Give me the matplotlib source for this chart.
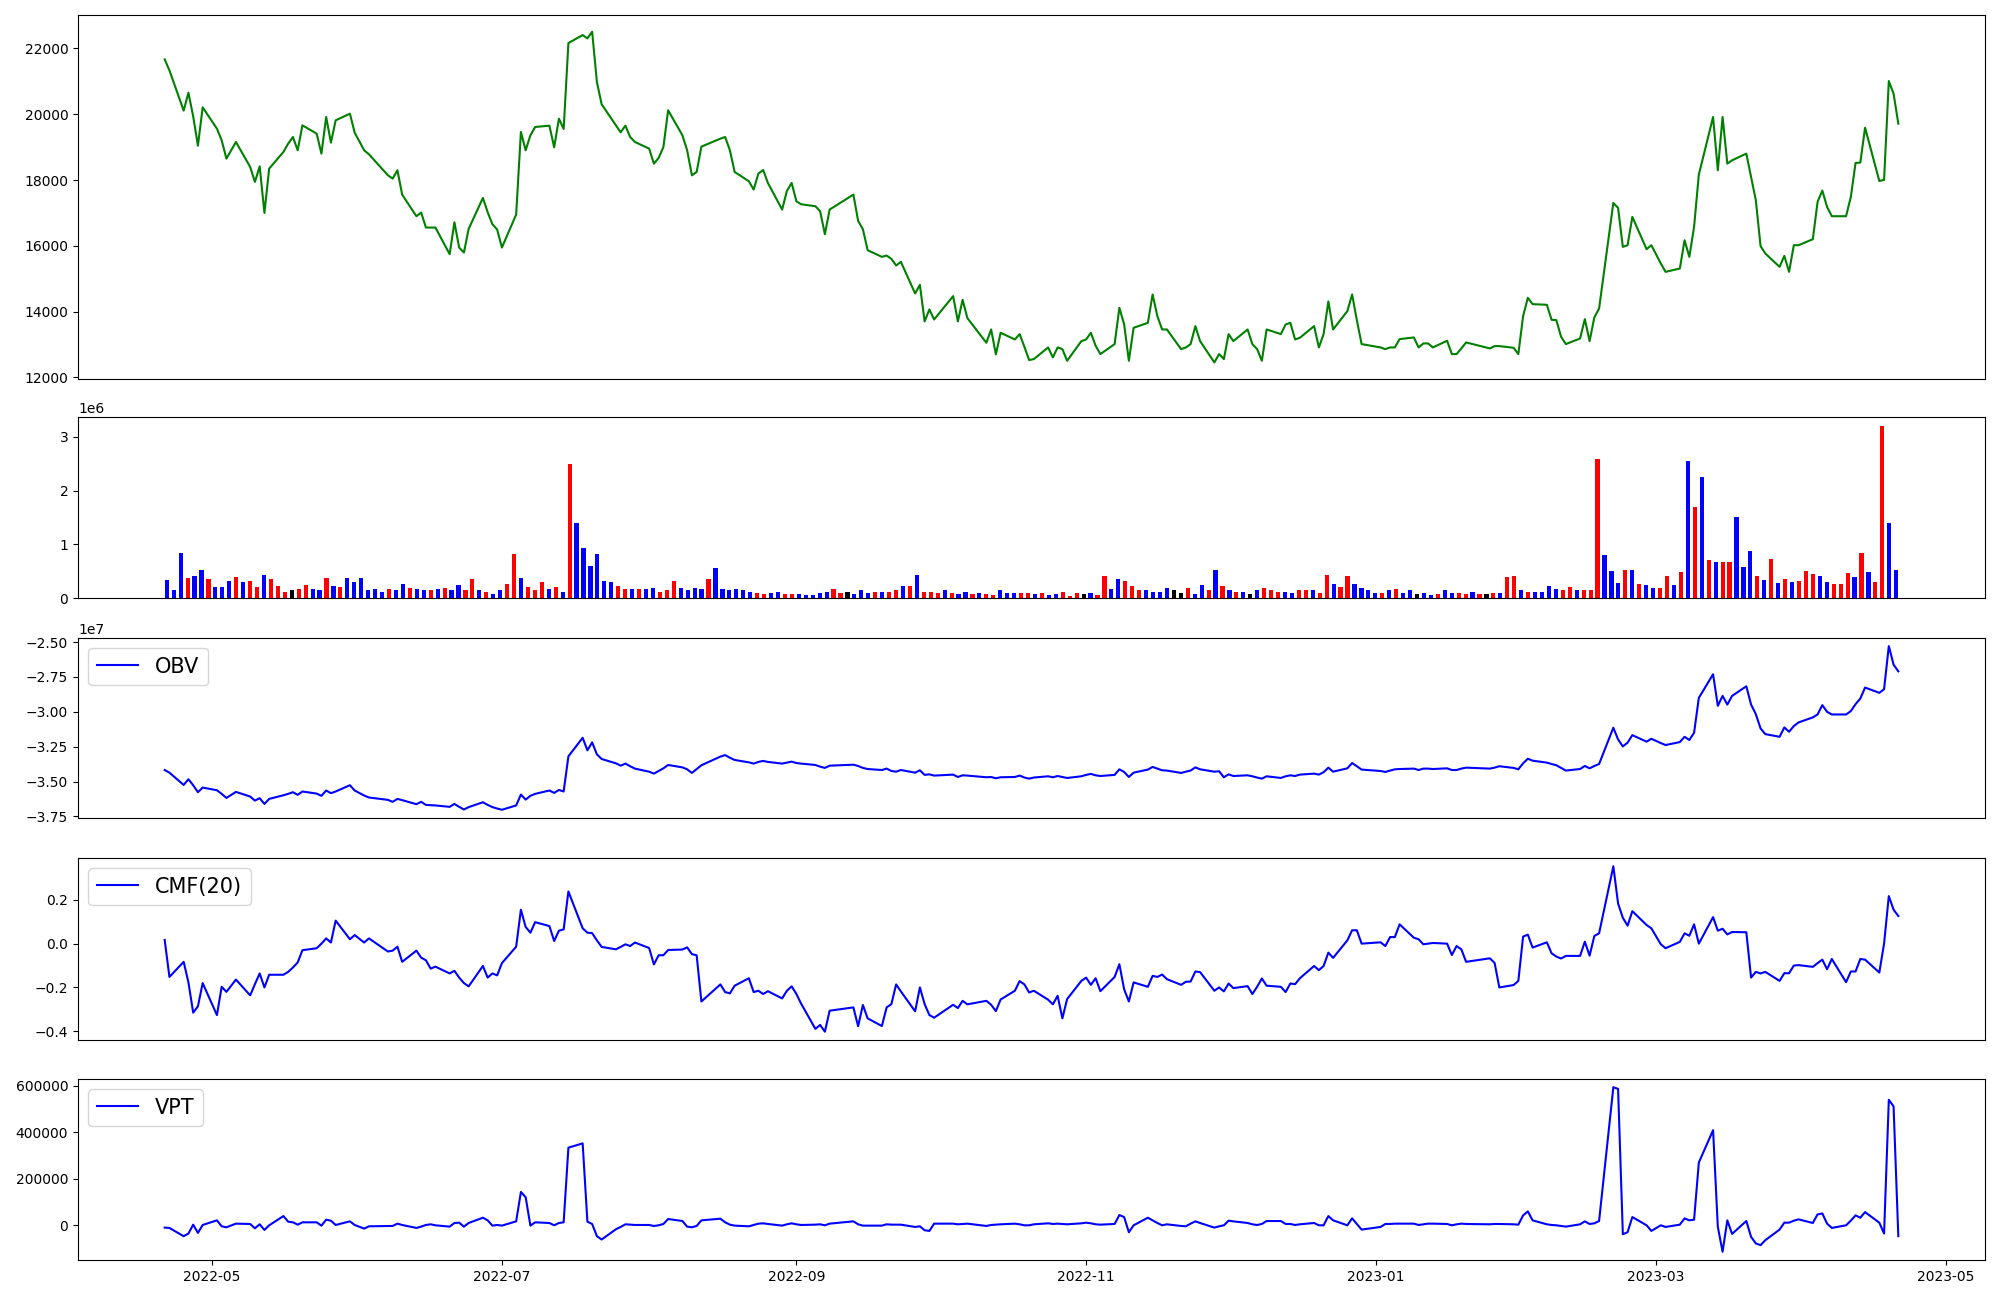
import matplotlib
matplotlib.use("Agg")
import matplotlib.pyplot as plt
import numpy as np
import pandas as pd

# ---- trading calendar (KRX) ----
holidays = ['2022-05-05', '2022-06-01', '2022-06-06', '2022-08-15', '2022-09-09',
            '2022-09-12', '2022-10-03', '2022-10-10', '2022-12-30', '2023-01-23',
            '2023-01-24', '2023-03-01']
dates = pd.bdate_range('2022-04-21', '2023-04-21')
dates = dates[~dates.isin(pd.to_datetime(holidays))]

# ---- close price (per month) ----
close_apr22 = [21666, 21332, 20108, 20654, 19935, 19045, 20209]
close_may22 = [19561, 19207, 18650, 19156, 18397, 17942, 18417, 17000, 18347, 18853, 19106,
               19308, 18903, 19662, 19409, 18802, 19915, 19136, 19814, 20016, 19440]
close_jun22 = [18903, 18782, 18144, 18043, 18296, 17557, 16900, 17011, 16556, 16556, 16556,
               15746, 16717, 15948, 15796, 16515, 17456, 17021, 16657, 16495]
close_jul22 = [15948, 16950, 19460, 18903, 19359, 19612, 19652, 18994, 19864, 19551, 22162,
               22405, 22304, 22506, 20978, 20300, 19662, 19450, 19652, 19308, 19156]
close_aug22 = [18954, 18498, 18670, 19004, 20118, 19359, 18903, 18144, 18245, 19014, 19257,
               19308, 18903, 18245, 17962, 17709, 18195, 18306, 17911, 17102, 17669, 17911]
close_sep22 = [17355, 17264, 17203, 17051, 16353, 17102, 17557, 16758, 16505, 15867, 15665,
               15705, 15604, 15402, 15513, 14552, 14815, 13702, 14066, 13762]
close_oct22 = [14471, 13702, 14359, 13803, 13054, 13459, 12700, 13358, 13155, 13317, 12933,
               12528, 12558, 12912, 12609, 12912, 12861, 12507, 13104]
close_nov22 = [13155, 13358, 12963, 12710, 13013, 14116, 13620, 12507, 13509, 13661, 14521,
               13863, 13459, 13459, 12861, 12912, 13013, 13560, 13104, 12457, 12710, 12558]
close_dec22 = [13317, 13104, 13459, 13013, 12861, 12507, 13459, 13317, 13610, 13661, 13155,
               13206, 13560, 12912, 13317, 14309, 13459, 14016, 14522, 13740, 13014]
close_jan23 = [12912, 12861, 12912, 12912, 13165, 13216, 12912, 13034, 13034, 12912, 13115,
               12710, 12710, 12882, 13064, 12882, 12953, 12953, 12902, 12710]
close_feb23 = [13863, 14420, 14228, 14208, 13752, 13742, 13236, 13013, 13185, 13772, 13104,
               13823, 14096, 17304, 17152, 15968, 16019, 16879, 15898, 16019]
close_mar23 = [15462, 15209, 15310, 16170, 15664, 16576, 18164, 19915, 18296, 19915, 18498,
               18599, 18802, 18094, 17385, 15989, 15766, 15361, 15695, 15209, 16019, 16019]
close_apr23 = [16201, 17335, 17679, 17183, 16900, 16900, 17487, 18519, 18529, 19591, 17972,
               18003, 21008, 20624, 19713]

# ---- volume (millions) and bar colour codes (r up, b down, k flat) ----
volume_m = [0.34, 0.15, 0.84, 0.38, 0.41, 0.52, 0.36, 0.21, 0.21, 0.32,
            0.40, 0.30, 0.32, 0.21, 0.43, 0.36, 0.23, 0.12, 0.14, 0.17,
            0.25, 0.17, 0.14, 0.38, 0.23, 0.21, 0.38, 0.30, 0.38, 0.15,
            0.17, 0.12, 0.17, 0.14, 0.27, 0.19, 0.17, 0.15, 0.15, 0.17,
            0.19, 0.14, 0.25, 0.15, 0.36, 0.15, 0.12, 0.08, 0.15, 0.27,
            0.82, 0.38, 0.21, 0.15, 0.30, 0.17, 0.21, 0.12, 2.49, 1.40,
            0.93, 0.60, 0.82, 0.32, 0.30, 0.23, 0.17, 0.17, 0.17, 0.17,
            0.19, 0.12, 0.14, 0.32, 0.19, 0.15, 0.19, 0.17, 0.36, 0.56,
            0.17, 0.14, 0.17, 0.14, 0.12, 0.10, 0.08, 0.10, 0.12, 0.08,
            0.08, 0.08, 0.06, 0.06, 0.10, 0.12, 0.17, 0.10, 0.12, 0.08,
            0.14, 0.10, 0.12, 0.12, 0.12, 0.14, 0.23, 0.23, 0.43, 0.12,
            0.12, 0.10, 0.14, 0.10, 0.08, 0.12, 0.08, 0.10, 0.08, 0.06,
            0.14, 0.10, 0.10, 0.10, 0.10, 0.08, 0.10, 0.06, 0.08, 0.12,
            0.04, 0.10, 0.08, 0.10, 0.06, 0.41, 0.17, 0.36, 0.32, 0.23,
            0.15, 0.14, 0.12, 0.12, 0.19, 0.14, 0.10, 0.19, 0.08, 0.25,
            0.14, 0.52, 0.23, 0.15, 0.12, 0.12, 0.08, 0.14, 0.19, 0.15,
            0.12, 0.12, 0.10, 0.14, 0.14, 0.15, 0.10, 0.43, 0.27, 0.21,
            0.41, 0.27, 0.19, 0.14, 0.10, 0.10, 0.14, 0.17, 0.10, 0.14,
            0.08, 0.10, 0.06, 0.08, 0.15, 0.10, 0.10, 0.08, 0.12, 0.08,
            0.08, 0.10, 0.10, 0.40, 0.41, 0.15, 0.12, 0.12, 0.12, 0.23,
            0.17, 0.15, 0.21, 0.15, 0.15, 0.15, 2.58, 0.80, 0.51, 0.28,
            0.52, 0.52, 0.27, 0.25, 0.19, 0.19, 0.41, 0.25, 0.49, 2.56,
            1.69, 2.25, 0.71, 0.67, 0.67, 0.67, 1.51, 0.58, 0.88, 0.41,
            0.34, 0.73, 0.28, 0.36, 0.30, 0.32, 0.51, 0.45, 0.41, 0.30,
            0.27, 0.27, 0.47, 0.40, 0.84, 0.49, 0.30, 3.21, 1.40, 0.52]
bar_codes = ("bbbrbbrbbb" "rbrrbrrrkr" "rbbrbrbbbb" "bbrbbrbbrb" "rbbrrbrbbr"
             "rbrrrbrbrb" "bbbbbrrbrb" "brrrbbbbrb" "bbbbbrrbbr" "rbbbbbrrkb"
             "bbrbrrbrbr" "rrbrbbrbrr" "bbbrrbrbbr" "rrkbrrbbrr" "rbbbbkkrbb"
             "rbrbrbkbrr" "rbbrrbrrbr" "rbbbbrbrbb" "kbbrbbrrbr" "krbrrbrbbb"
             "brrbrrrbbb" "rbrbbrrbrb" "rbrbrrbbbr" "brbrbrrrbb" "rrrbrbrrbb")

# ---- OBV (x1e7) ----
obv_apr22 = [-3.417, -3.436, -3.524, -3.483, -3.526, -3.576, -3.543]
obv_may22 = [-3.562, -3.588, -3.617, -3.574, -3.607, -3.636, -3.619, -3.660, -3.624, -3.598,
             -3.588, -3.576, -3.595, -3.571, -3.586, -3.602, -3.564, -3.583, -3.571, -3.526, -3.564]
obv_jun22 = [-3.600, -3.614, -3.631, -3.645, -3.624, -3.633, -3.662, -3.645, -3.667, -3.669,
             -3.671, -3.681, -3.660, -3.681, -3.700, -3.683, -3.648, -3.667, -3.683, -3.693]
obv_jul22 = [-3.702, -3.671, -3.593, -3.629, -3.602, -3.588, -3.564, -3.581, -3.560, -3.571,
             -3.319, -3.186, -3.276, -3.219, -3.305, -3.338, -3.369, -3.386, -3.371, -3.390, -3.407]
obv_aug22 = [-3.429, -3.443, -3.424, -3.405, -3.381, -3.398, -3.412, -3.438, -3.410, -3.383,
             -3.321, -3.310, -3.329, -3.345, -3.362, -3.371, -3.359, -3.352, -3.359, -3.371,
             -3.364, -3.357]
obv_sep22 = [-3.367, -3.371, -3.381, -3.393, -3.402, -3.386, -3.379, -3.388, -3.402, -3.410,
             -3.417, -3.407, -3.424, -3.429, -3.417, -3.436, -3.419, -3.452, -3.448, -3.457]
obv_oct22 = [-3.450, -3.467, -3.455, -3.457, -3.469, -3.467, -3.476, -3.469, -3.467, -3.457,
             -3.471, -3.479, -3.471, -3.462, -3.469, -3.460, -3.467, -3.474, -3.462]
obv_nov22 = [-3.452, -3.445, -3.455, -3.460, -3.452, -3.412, -3.431, -3.467, -3.436, -3.414,
             -3.395, -3.407, -3.419, -3.421, -3.438, -3.429, -3.421, -3.398, -3.412, -3.429,
             -3.426, -3.469]
obv_dec22 = [-3.448, -3.460, -3.455, -3.462, -3.471, -3.479, -3.462, -3.474, -3.462, -3.455,
             -3.460, -3.450, -3.443, -3.450, -3.433, -3.400, -3.429, -3.405, -3.367, -3.390, -3.414]
obv_jan23 = [-3.424, -3.431, -3.421, -3.412, -3.410, -3.407, -3.417, -3.407, -3.407, -3.410,
             -3.405, -3.417, -3.417, -3.407, -3.400, -3.407, -3.400, -3.390, -3.402, -3.412]
obv_feb23 = [-3.369, -3.336, -3.350, -3.364, -3.374, -3.383, -3.402, -3.421, -3.410, -3.388,
             -3.405, -3.388, -3.374, -3.114, -3.198, -3.248, -3.221, -3.167, -3.214, -3.193]
obv_mar23 = [-3.224, -3.238, -3.217, -3.179, -3.202, -3.150, -2.900, -2.731, -2.957, -2.886,
             -2.948, -2.886, -2.817, -2.948, -3.017, -3.119, -3.160, -3.179, -3.112, -3.143,
             -3.102, -3.076]
obv_apr23 = [-3.040, -3.019, -2.952, -3.000, -3.019, -3.019, -2.995, -2.945, -2.905, -2.826,
             -2.864, -2.838, -2.529, -2.662, -2.710]

# ---- CMF(20) ----
cmf_apr22 = [0.017, -0.152, -0.083, -0.177, -0.315, -0.286, -0.180]
cmf_may22 = [-0.326, -0.197, -0.220, -0.164, -0.236, -0.185, -0.136, -0.200, -0.142, -0.142,
             -0.129, -0.109, -0.086, -0.030, -0.021, 0.000, 0.024, 0.005, 0.105, 0.020, 0.039]
cmf_jun22 = [0.005, 0.024, -0.036, -0.032, -0.014, -0.083, -0.032, -0.064, -0.076, -0.114,
             -0.105, -0.136, -0.124, -0.155, -0.180, -0.195, -0.102, -0.155, -0.136, -0.145]
cmf_jul22 = [-0.089, -0.014, 0.155, 0.076, 0.050, 0.098, 0.080, 0.012, 0.059, 0.065,
             0.238, 0.070, 0.050, 0.048, 0.015, -0.015, -0.026, -0.015, -0.003, -0.011, 0.005]
cmf_aug22 = [-0.020, -0.095, -0.053, -0.053, -0.029, -0.027, -0.017, -0.048, -0.053, -0.264,
             -0.186, -0.221, -0.227, -0.192, -0.158, -0.221, -0.215, -0.230, -0.217, -0.250,
             -0.215, -0.195]
cmf_sep22 = [-0.230, -0.274, -0.389, -0.371, -0.402, -0.306, -0.291, -0.377, -0.280, -0.341,
             -0.376, -0.291, -0.276, -0.186, -0.218, -0.309, -0.200, -0.276, -0.326, -0.338]
cmf_oct22 = [-0.279, -0.294, -0.261, -0.277, -0.261, -0.279, -0.308, -0.255, -0.215, -0.171,
             -0.186, -0.223, -0.215, -0.256, -0.277, -0.238, -0.341, -0.253, -0.170]
cmf_nov22 = [-0.155, -0.188, -0.158, -0.217, -0.152, -0.094, -0.208, -0.264, -0.177, -0.197,
             -0.147, -0.152, -0.141, -0.162, -0.188, -0.174, -0.173, -0.127, -0.130, -0.215,
             -0.200, -0.218]
cmf_dec22 = [-0.182, -0.203, -0.194, -0.230, -0.197, -0.159, -0.192, -0.197, -0.221, -0.182,
             -0.185, -0.158, -0.102, -0.121, -0.102, -0.041, -0.065, 0.015, 0.061, 0.061, 0.000]
cmf_jan23 = [0.006, -0.011, 0.030, 0.030, 0.088, 0.027, 0.020, -0.003, 0.000, 0.003,
             0.000, -0.052, -0.011, -0.026, -0.083, -0.067, -0.088, -0.200, -0.189, -0.170]
cmf_feb23 = [0.032, 0.041, -0.018, 0.006, -0.044, -0.059, -0.068, -0.056, -0.056, 0.009,
             -0.055, 0.035, 0.047, 0.353, 0.183, 0.118, 0.082, 0.148, 0.085, 0.070]
cmf_mar23 = [-0.003, -0.021, 0.008, 0.047, 0.036, 0.088, 0.000, 0.121, 0.059, 0.068,
             0.042, 0.053, 0.052, -0.155, -0.129, -0.136, -0.129, -0.170, -0.135, -0.135,
             -0.100, -0.098]
cmf_apr23 = [-0.106, -0.089, -0.073, -0.117, -0.070, -0.176, -0.127, -0.127, -0.070, -0.073,
             -0.132, 0.000, 0.217, 0.155, 0.126]

# ---- VPT ----
vpt_apr22 = [-9900, -11300, -46800, -35500, 2800, -32600, 1400]
vpt_may22 = [21300, -4300, -8500, 7100, 5700, -12800, 4300, -19900, 0, 39700, 15600, 12800,
             2800, 12800, 12800, -1400, 24100, 19900, 1400, 17000, 1400]
vpt_jun22 = [-14200, -4300, -2800, -2800, 7100, 1400, -11300, -5700, 1400, 4300, 0, -5700,
             9900, 11300, -5700, 9900, 32600, 21300, -1400, 1400]
vpt_jul22 = [-1400, 17000, 143300, 120600, -1400, 12800, 9900, 0, 9900, 12800, 333300, 351800,
             15600, 5700, -46800, -61000, -17000, -7100, 4300, 2800, 1400]
vpt_aug22 = [1400, -2800, 0, 5700, 27000, 18400, -5700, -8500, -2800, 21300, 28400, 12800,
             2800, -1400, -4300, 1400, 7100, 8500, 5700, -1400, 4300, 8500]
vpt_sep22 = [4300, 1400, 2800, 4300, 0, 7100, 17000, 4300, -1400, -1400, -1400, 4300, 2800,
             2800, 2800, -7100, -4300, -21300, -24100, 7100]
vpt_oct22 = [7100, 4300, 5700, 7100, -2800, 1400, 2800, 4300, 7100, 4300, 0, 0, 4300, 8500,
             5700, 7100, 5700, 4300, 8500]
vpt_nov22 = [11300, 8500, 4300, 2800, 5700, 44000, 35500, -29800, 0, 32600, 21300, 9900, 0,
             4300, -2800, -4300, 7100, 17000, 9900, -9900, -4300, 0]
vpt_dec22 = [19900, 17000, 9900, 4300, 1400, 5700, 18400, 18400, 5700, 5700, 1400, 4300, 9900,
             0, 0, 39700, 21300, 0, 29800, 5700, -18400]
vpt_jan23 = [-7100, 5700, 5700, 7100, 7100, 7100, 1400, 4300, 7100, 7100, 5700, 0, 4300, 7100,
             5700, 4300, 5700, 5700, 4300, 2800]
vpt_feb23 = [42600, 59600, 21300, 4300, 1400, 0, -2800, -5700, 4300, 17000, 5700, 8500, 18400,
             592900, 585800, -38300, -29800, 35500, 0, -24100]
vpt_mar23 = [0, -7100, 2800, 29800, 21300, 24100, 269500, 408500, -7100, -113500, 21300,
             -36900, 18400, -49600, -78000, -85100, -63800, -18400, 11300, 11300, 19900, 25500]
vpt_apr23 = [9900, 46800, 51100, 7100, -11300, 0, 19900, 42600, 32600, 56700, 11300, -35500,
             539000, 510600, -46800]

close = (close_apr22 + close_may22 + close_jun22 + close_jul22 + close_aug22 + close_sep22 +
         close_oct22 + close_nov22 + close_dec22 + close_jan23 + close_feb23 + close_mar23 +
         close_apr23)
obv = (obv_apr22 + obv_may22 + obv_jun22 + obv_jul22 + obv_aug22 + obv_sep22 + obv_oct22 +
       obv_nov22 + obv_dec22 + obv_jan23 + obv_feb23 + obv_mar23 + obv_apr23)
cmf = (cmf_apr22 + cmf_may22 + cmf_jun22 + cmf_jul22 + cmf_aug22 + cmf_sep22 + cmf_oct22 +
       cmf_nov22 + cmf_dec22 + cmf_jan23 + cmf_feb23 + cmf_mar23 + cmf_apr23)
vpt = (vpt_apr22 + vpt_may22 + vpt_jun22 + vpt_jul22 + vpt_aug22 + vpt_sep22 + vpt_oct22 +
       vpt_nov22 + vpt_dec22 + vpt_jan23 + vpt_feb23 + vpt_mar23 + vpt_apr23)

colour_map = {'r': 'red', 'b': 'blue', 'k': 'black'}
bar_colours = [colour_map[c] for c in bar_codes]
volume = np.array(volume_m) * 1e6
obv_vals = np.array(obv) * 1e7

fig = plt.figure(figsize=(20, 13), dpi=100)
L, W = 0.039, 0.9535
ax_price = fig.add_axes([L, 0.7085, W, 0.2798])
ax_vol = fig.add_axes([L, 0.5400, W, 0.1392])
ax_obv = fig.add_axes([L, 0.3708, W, 0.1385])
ax_cmf = fig.add_axes([L, 0.2000, W, 0.1400])
ax_vpt = fig.add_axes([L, 0.0308, W, 0.1392])

ax_price.plot(dates, close, color='green', linewidth=1.5)
ax_vol.bar(np.arange(len(volume)), volume, color=bar_colours, width=0.6)
ax_obv.plot(dates, obv_vals, color='blue', linewidth=1.5, label='OBV')
ax_cmf.plot(dates, cmf, color='blue', linewidth=1.5, label='CMF(20)')
ax_vpt.plot(dates, vpt, color='blue', linewidth=1.5, label='VPT')

for ax in (ax_obv, ax_cmf, ax_vpt):
    ax.legend(loc='upper left', fontsize=15)

for ax in (ax_price, ax_vol, ax_obv, ax_cmf):
    ax.tick_params(axis='x', bottom=False, labelbottom=False)

fig.savefig('out.png', dpi=100)
